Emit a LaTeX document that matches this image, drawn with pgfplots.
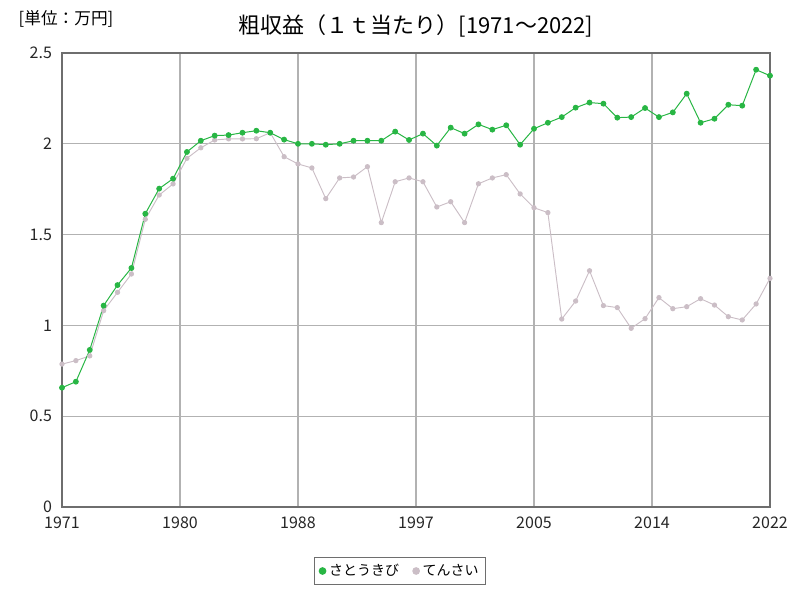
\documentclass[border=0pt]{standalone}
\usepackage{pgfplots}
\pgfplotsset{compat=1.18}
\usepackage{fontspec}
\setmainfont{Noto Sans CJK JP}
\definecolor{sgreen}{RGB}{40,182,68}
\definecolor{sbeet}{RGB}{203,190,198}
\definecolor{gridc}{RGB}{178,178,178}
\definecolor{axc}{RGB}{110,110,110}
\begin{document}
\begin{tikzpicture}[x=1pt,y=1pt]
\useasboundingbox (-46.5,-69.75) rectangle (553.5,380.25);
\begin{axis}[
  at={(0,0)}, anchor=south west,
  scale only axis, width=531pt, height=340.5pt,
  xmin=1971, xmax=2022, ymin=0, ymax=2.5,
  xtick={1971,1979.5,1988,1996.5,2005,2013.5,2022},
  xticklabels={1971,1980,1988,1997,2005,2014,2022},
  ytick={0,0.5,1,1.5,2,2.5},
  yticklabels={0,0.5,1,1.5,2,2.5},
  grid=major,
  major grid style={gridc, line width=0.9pt},
  axis line style={axc, line width=1.1pt},
  tick style={draw=none},
  ticklabel style={font=\fontsize{12}{14}\selectfont, text=black!85},
  xticklabel style={yshift=-4pt},
  yticklabel style={xshift=-4pt},
  /pgf/number format/assume math mode=true,
]
\addplot[sbeet, line width=0.7pt, mark=*, mark size=1.6pt, mark options={draw=sbeet, fill=sbeet}] coordinates {
(1971,0.787)(1972,0.806)(1973,0.832)(1974,1.081)(1975,1.182)(1976,1.283)(1977,1.584)(1978,1.718)(1979,1.779)
(1980,1.920)(1981,1.978)(1982,2.021)(1983,2.027)(1984,2.027)(1985,2.028)(1986,2.061)(1987,1.929)(1988,1.889)
(1989,1.867)(1990,1.698)(1991,1.812)(1992,1.817)(1993,1.874)(1994,1.566)(1995,1.791)(1996,1.812)(1997,1.791)
(1998,1.652)(1999,1.681)(2000,1.566)(2001,1.780)(2002,1.812)(2003,1.830)(2004,1.724)(2005,1.648)(2006,1.621)
(2007,1.035)(2008,1.134)(2009,1.301)(2010,1.109)(2011,1.098)(2012,0.984)(2013,1.037)(2014,1.153)(2015,1.092)
(2016,1.103)(2017,1.147)(2018,1.112)(2019,1.048)(2020,1.030)(2021,1.118)(2022,1.259)};
\addplot[sgreen, line width=0.75pt, mark=*, mark size=1.8pt, mark options={draw=sgreen, fill=sgreen}] coordinates {
(1971,0.657)(1972,0.690)(1973,0.865)(1974,1.109)(1975,1.222)(1976,1.316)(1977,1.615)(1978,1.753)(1979,1.808)
(1980,1.955)(1981,2.017)(1982,2.045)(1983,2.048)(1984,2.061)(1985,2.072)(1986,2.061)(1987,2.023)(1988,2.000)
(1989,2.000)(1990,1.995)(1991,2.000)(1992,2.017)(1993,2.017)(1994,2.017)(1995,2.067)(1996,2.021)(1997,2.056)
(1998,1.990)(1999,2.089)(2000,2.056)(2001,2.107)(2002,2.078)(2003,2.102)(2004,1.995)(2005,2.083)(2006,2.116)
(2007,2.147)(2008,2.199)(2009,2.227)(2010,2.221)(2011,2.144)(2012,2.147)(2013,2.197)(2014,2.147)(2015,2.173)
(2016,2.276)(2017,2.116)(2018,2.138)(2019,2.215)(2020,2.210)(2021,2.408)(2022,2.375)};
\end{axis}
\begin{axis}[
  at={(0,0)}, anchor=south west,
  scale only axis, width=531pt, height=340.5pt,
  xmin=0, xmax=1, ymin=0, ymax=1, hide axis,
  legend style={at={(253.5pt,-48pt)}, anchor=center, draw=axc, line width=0.9pt,
    font=\fontsize{10.5}{12}\selectfont, inner xsep=3pt, inner ysep=3pt,
    /tikz/every even column/.append style={column sep=8pt}},
  legend columns=2,
  legend image code/.code={\fill[#1] (0.15cm,0cm) circle (2.4pt);},
]
\addlegendimage{sgreen}
\addlegendentry{さとうきび}
\addlegendimage{sbeet}
\addlegendentry{てんさい}
\end{axis}
\node[font=\fontsize{16.5}{18}\selectfont] at (265.5,361) {粗収益（１ｔ当たり）[1971～2022]};
\node[font=\fontsize{12.5}{14}\selectfont, anchor=west] at (-36,366) {[単位：万円]};
\end{tikzpicture}
\end{document}
